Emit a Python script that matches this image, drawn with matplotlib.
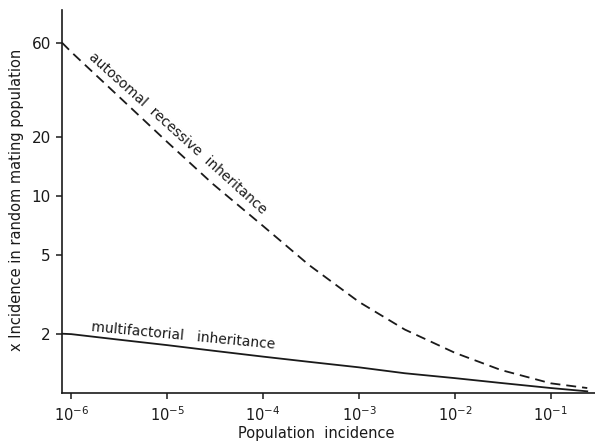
import matplotlib.pyplot as plt


# population incidence (x axis, log)
incidence = [8e-7, 1e-6, 3e-6, 1e-5, 3e-5, 1e-4, 3e-4, 1e-3, 3e-3, 1e-2, 3e-2, 1e-1, 0.24]

# relative incidence
recessive = [60, 53.8, 32.6, 18.8, 11.5, 7.04, 4.47, 2.90, 2.10, 1.60, 1.31, 1.12, 1.06]
multifactorial = [2.0, 1.99, 1.87, 1.75, 1.64, 1.53, 1.44, 1.35, 1.26, 1.19, 1.125, 1.06, 1.02]

y_ticks = [2, 5, 10, 20, 60]
x_ticks = [1e-6, 1e-5, 1e-4, 1e-3, 1e-2, 1e-1]
x_ticklabels = [r"$10^{-6}$", r"$10^{-5}$", r"$10^{-4}$", r"$10^{-3}$", r"$10^{-2}$", r"$10^{-1}$"]

INK = "#1a1a1a"


def main():
    plt.rcParams.update({
        "font.family": "DejaVu Sans",
        "mathtext.fontset": "dejavusans",
    })

    fig = plt.figure(figsize=(5.95, 4.41), dpi=100)
    ax = fig.add_axes([0.1042, 0.1088, 0.8958, 0.8685])

    ax.plot(incidence, recessive, color=INK, lw=1.3, dashes=(5.5, 3.3))
    ax.plot(incidence, multifactorial, color=INK, lw=1.3)

    ax.set_xscale("log")
    ax.set_yscale("log")
    ax.set_xlim(8e-7, 0.289)
    ax.set_ylim(1, 87.9)

    ax.set_yticks(y_ticks)
    ax.set_yticklabels([str(v) for v in y_ticks])
    ax.set_xticks(x_ticks)
    ax.set_xticklabels(x_ticklabels)
    ax.minorticks_off()
    ax.tick_params(axis="both", direction="out", length=4, width=1.1,
                   color=INK, labelcolor=INK)
    ax.tick_params(axis="y", labelsize=11, pad=4)
    ax.tick_params(axis="x", labelsize=10.5, pad=5)

    for side in ("top", "right"):
        ax.spines[side].set_visible(False)
    for side in ("left", "bottom"):
        ax.spines[side].set_linewidth(1.2)
        ax.spines[side].set_color(INK)

    ax.set_xlabel("Population  incidence", fontsize=10.5, color=INK)
    ax.xaxis.set_label_coords(0.477, -0.086)
    ax.set_ylabel("x Incidence in random mating population", fontsize=10.5, color=INK)
    ax.yaxis.set_label_coords(-0.072, 0.504)

    ax.text(0.216, 0.679, "autosomal  recessive  inheritance",
            transform=ax.transAxes, fontsize=10, color=INK,
            rotation=-42, rotation_mode="anchor", ha="center", va="center")
    ax.text(0.228, 0.149, "multifactorial   inheritance",
            transform=ax.transAxes, fontsize=10, color=INK,
            rotation=-5.5, rotation_mode="anchor", ha="center", va="center")

    fig.savefig("out.png", dpi=100)
    plt.close(fig)


if __name__ == "__main__":
    main()
